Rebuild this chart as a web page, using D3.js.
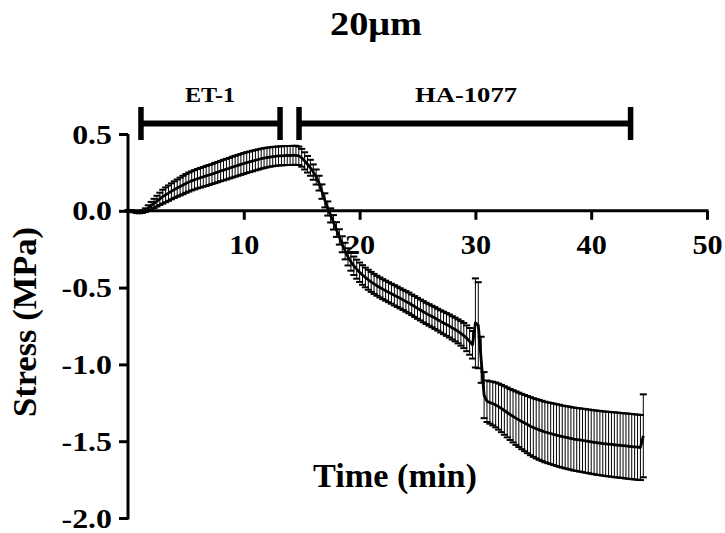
<!DOCTYPE html>
<html>
<head>
<meta charset="utf-8">
<script src="https://cdn.jsdelivr.net/npm/d3@7/dist/d3.min.js"></script>
<style>
  html, body { margin: 0; padding: 0; background: #fff; }
  svg { display: block; }
  text { font-family: "Liberation Serif", "Times New Roman", serif; font-weight: bold; fill: #000; }
</style>
</head>
<body>
<svg id="chart" width="725" height="533"></svg>
<script>
// ---------------- DATA ----------------
const titleText = "20\u03bcm";
const xLabel = "Time (min)";
const yLabel = "Stress (MPa)";

const xTickValues = [10, 20, 30, 40, 50];
const xTickLabels = ["10", "20", "30", "40", "50"];
const yTickValues = [0.5, 0.0, -0.5, -1.0, -1.5, -2.0];
const yTickLabels = ["0.5", "0.0", "-0.5", "-1.0", "-1.5", "-2.0"];

const treatmentLabels = ["ET-1", "HA-1077"];
const treatmentStart = [1.12, 14.77];
const treatmentEnd = [13.13, 43.4];

// time (min)
const time = [
  0, 0.25, 0.5, 0.75, 1, 1.25, 1.5, 1.75, 2, 2.25, 2.5, 2.75, 3, 3.25, 3.5, 3.75,
  4, 4.25, 4.5, 4.75, 5, 5.25, 5.5, 5.75, 6, 6.25, 6.5, 6.75, 7, 7.25, 7.5, 7.75,
  8, 8.25, 8.5, 8.75, 9, 9.25, 9.5, 9.75, 10, 10.25, 10.5, 10.75, 11, 11.25, 11.5, 11.75,
  12, 12.25, 12.5, 12.75, 13, 13.25, 13.5, 13.75, 14, 14.25, 14.5, 14.75, 15, 15.25, 15.5, 15.75,
  16, 16.25, 16.5, 16.75, 17, 17.25, 17.5, 17.75, 18, 18.25, 18.5, 18.75, 19, 19.25, 19.5, 19.75,
  20, 20.25, 20.5, 20.75, 21, 21.25, 21.5, 21.75, 22, 22.25, 22.5, 22.75, 23, 23.25, 23.5, 23.75,
  24, 24.25, 24.5, 24.75, 25, 25.25, 25.5, 25.75, 26, 26.25, 26.5, 26.75, 27, 27.25, 27.5, 27.75,
  28, 28.25, 28.5, 28.75, 29, 29.25, 29.5, 29.75, 30, 30.25, 30.5, 30.75, 31, 31.25, 31.5, 31.75,
  32, 32.25, 32.5, 32.75, 33, 33.25, 33.5, 33.75, 34, 34.25, 34.5, 34.75, 35, 35.25, 35.5, 35.75,
  36, 36.25, 36.5, 36.75, 37, 37.25, 37.5, 37.75, 38, 38.25, 38.5, 38.75, 39, 39.25, 39.5, 39.75,
  40, 40.25, 40.5, 40.75, 41, 41.25, 41.5, 41.75, 42, 42.25, 42.5, 42.75, 43, 43.25, 43.5, 43.75,
  44, 44.25, 44.5
];

// mean stress (MPa)
const meanStress = [
  0.000, 0.000, -0.005, -0.010, -0.010, -0.006, 0.004, 0.018, 0.033, 0.048, 0.063, 0.078, 0.092, 0.104, 0.115, 0.127,
  0.138, 0.148, 0.158, 0.168, 0.178, 0.187, 0.195, 0.202, 0.209, 0.215, 0.221, 0.227, 0.233, 0.239, 0.246, 0.252,
  0.259, 0.265, 0.271, 0.277, 0.284, 0.290, 0.296, 0.302, 0.308, 0.314, 0.319, 0.324, 0.329, 0.334, 0.339, 0.343,
  0.347, 0.350, 0.353, 0.355, 0.357, 0.358, 0.359, 0.360, 0.360, 0.361, 0.361, 0.358, 0.345, 0.325, 0.303, 0.280,
  0.252, 0.220, 0.180, 0.125, 0.068, 0.015, -0.030, -0.075, -0.122, -0.170, -0.218, -0.262, -0.300, -0.332, -0.358, -0.380,
  -0.400, -0.418, -0.434, -0.449, -0.463, -0.476, -0.488, -0.499, -0.510, -0.520, -0.530, -0.540, -0.550, -0.560, -0.570, -0.580,
  -0.590, -0.600, -0.612, -0.623, -0.635, -0.646, -0.657, -0.668, -0.678, -0.688, -0.698, -0.709, -0.720, -0.730, -0.740, -0.750,
  -0.762, -0.773, -0.785, -0.798, -0.812, -0.830, -0.850, -0.872, -0.730, -0.745, -0.970, -1.200, -1.240, -1.248, -1.255, -1.264,
  -1.275, -1.287, -1.300, -1.313, -1.326, -1.338, -1.350, -1.361, -1.372, -1.382, -1.392, -1.402, -1.411, -1.419, -1.426, -1.433,
  -1.440, -1.445, -1.450, -1.455, -1.460, -1.465, -1.470, -1.474, -1.478, -1.482, -1.486, -1.489, -1.492, -1.495, -1.498, -1.501,
  -1.504, -1.507, -1.510, -1.512, -1.515, -1.517, -1.519, -1.521, -1.523, -1.525, -1.527, -1.529, -1.531, -1.533, -1.535, -1.537,
  -1.539, -1.541, -1.465
];

// SEM (MPa)
const semStress = [
  0.005, 0.005, 0.005, 0.005, 0.006, 0.008, 0.012, 0.018, 0.025, 0.030, 0.035, 0.040, 0.045, 0.048, 0.050, 0.052,
  0.054, 0.056, 0.058, 0.060, 0.061, 0.062, 0.062, 0.063, 0.063, 0.064, 0.064, 0.065, 0.065, 0.065, 0.066, 0.066,
  0.066, 0.067, 0.067, 0.067, 0.068, 0.068, 0.068, 0.068, 0.068, 0.068, 0.067, 0.067, 0.066, 0.066, 0.065, 0.065,
  0.064, 0.063, 0.063, 0.062, 0.062, 0.062, 0.062, 0.062, 0.062, 0.062, 0.062, 0.060, 0.058, 0.056, 0.054, 0.052,
  0.050, 0.049, 0.048, 0.047, 0.046, 0.046, 0.046, 0.047, 0.048, 0.050, 0.052, 0.054, 0.056, 0.058, 0.060, 0.062,
  0.063, 0.064, 0.064, 0.065, 0.065, 0.065, 0.065, 0.065, 0.065, 0.065, 0.065, 0.065, 0.066, 0.066, 0.066, 0.066,
  0.067, 0.067, 0.067, 0.068, 0.068, 0.068, 0.069, 0.069, 0.070, 0.070, 0.071, 0.071, 0.072, 0.073, 0.074, 0.075,
  0.076, 0.077, 0.078, 0.080, 0.082, 0.084, 0.087, 0.090, 0.290, 0.280, 0.150, 0.150, 0.135, 0.138, 0.142, 0.146,
  0.150, 0.154, 0.158, 0.162, 0.166, 0.170, 0.174, 0.177, 0.180, 0.183, 0.186, 0.189, 0.191, 0.193, 0.195, 0.196,
  0.197, 0.198, 0.199, 0.200, 0.201, 0.202, 0.202, 0.203, 0.204, 0.204, 0.205, 0.205, 0.206, 0.206, 0.207, 0.207,
  0.208, 0.208, 0.209, 0.209, 0.209, 0.210, 0.210, 0.210, 0.211, 0.211, 0.211, 0.211, 0.212, 0.212, 0.212, 0.212,
  0.212, 0.212, 0.270
];

// ---------------- CHART ----------------
const svg = d3.select("#chart");
svg.append("rect").attr("width", 725).attr("height", 533).attr("fill", "#fff");

const x = d3.scaleLinear().domain([0, 50]).range([128, 707]);
const y = d3.scaleLinear().domain([-2, 0.5]).range([518, 134]);

const data = time.map((t, i) => ({ t, m: meanStress[i], s: semStress[i] }));

function fit(sel, w) {
  sel.attr("textLength", w).attr("lengthAdjust", "spacingAndGlyphs");
}
function stretch(sel, f) {
  sel.each(function () {
    const w = this.getComputedTextLength();
    d3.select(this).attr("textLength", w * f).attr("lengthAdjust", "spacingAndGlyphs");
  });
}

// error bars
const eb = svg.append("g").attr("class", "errorbars");
eb.selectAll("line.v").data(data).join("line")
  .attr("class", "v")
  .attr("x1", d => x(d.t)).attr("x2", d => x(d.t))
  .attr("y1", d => y(d.m + d.s)).attr("y2", d => y(d.m - d.s))
  .attr("stroke", "#000").attr("stroke-width", 1);
const capW = 3.5;
eb.selectAll("line.ct").data(data).join("line")
  .attr("class", "ct")
  .attr("x1", d => x(d.t) - capW).attr("x2", d => x(d.t) + capW)
  .attr("y1", d => y(d.m + d.s)).attr("y2", d => y(d.m + d.s))
  .attr("stroke", "#000").attr("stroke-width", 2);
eb.selectAll("line.cb").data(data).join("line")
  .attr("class", "cb")
  .attr("x1", d => x(d.t) - capW).attr("x2", d => x(d.t) + capW)
  .attr("y1", d => y(d.m - d.s)).attr("y2", d => y(d.m - d.s))
  .attr("stroke", "#000").attr("stroke-width", 2);

// mean line
svg.append("path").datum(data)
  .attr("fill", "none").attr("stroke", "#000").attr("stroke-width", 2.8)
  .attr("stroke-linejoin", "round")
  .attr("d", d3.line().x(d => x(d.t)).y(d => y(d.m)));

// axes
const yAxis = d3.axisLeft(y).tickValues(yTickValues)
  .tickFormat((d, i) => yTickLabels[i]).tickSize(9).tickSizeOuter(0).tickPadding(7);
const gy = svg.append("g").attr("transform", `translate(${x(0)},0)`).call(yAxis);

const xAxis = d3.axisBottom(x).tickValues(xTickValues)
  .tickFormat((d, i) => xTickLabels[i]).tickSize(9).tickSizeOuter(0).tickPadding(15);
const gx = svg.append("g").attr("transform", `translate(0,${y(0)})`).call(xAxis);

[gx, gy].forEach(g => {
  g.select(".domain").attr("stroke", "#000").attr("stroke-width", 3);
  g.selectAll(".tick line").attr("stroke", "#000").attr("stroke-width", 3);
  g.selectAll(".tick text").style("font-size", "27px")
    .style("font-family", '"Liberation Serif", "Times New Roman", serif')
    .style("font-weight", "bold").attr("fill", "#000");
});
gx.select(".domain").attr("d", `M${x(0) - 1.5},0H${x(50) + 1.5}`);
gy.select(".domain").attr("d", `M0,${y(0.5)}V${y(-2) + 1.5}`);
gy.selectAll(".tick text").attr("dy", "0.34em").call(stretch, 1.18);
gx.selectAll(".tick text").call(stretch, 1.12);

// treatment bars
const tb = svg.append("g");
const barY = 123.5;
treatmentLabels.forEach((lab, i) => {
  tb.append("line")
    .attr("x1", x(treatmentStart[i])).attr("x2", x(treatmentEnd[i]))
    .attr("y1", barY).attr("y2", barY)
    .attr("stroke", "#000").attr("stroke-width", 6);
  [treatmentStart[i], treatmentEnd[i]].forEach(v => {
    tb.append("line")
      .attr("x1", x(v)).attr("x2", x(v))
      .attr("y1", 107).attr("y2", 140)
      .attr("stroke", "#000").attr("stroke-width", 5.5);
  });
});
tb.append("text").attr("x", 210).attr("y", 102).attr("text-anchor", "middle")
  .style("font-size", "22px").text(treatmentLabels[0]).call(fit, 50);
tb.append("text").attr("x", 466).attr("y", 102).attr("text-anchor", "middle")
  .style("font-size", "22px").text(treatmentLabels[1]).call(fit, 102);

// title
svg.append("text").attr("x", 376).attr("y", 35).attr("text-anchor", "middle")
  .style("font-size", "33px").text(titleText).call(fit, 92);

// axis labels
svg.append("text").attr("x", 395).attr("y", 487).attr("text-anchor", "middle")
  .style("font-size", "34px").text(xLabel).call(fit, 164);
svg.append("text").attr("transform", "translate(36,322) rotate(-90)")
  .attr("text-anchor", "middle").style("font-size", "34px").text(yLabel).call(fit, 190);
</script>
</body>
</html>
